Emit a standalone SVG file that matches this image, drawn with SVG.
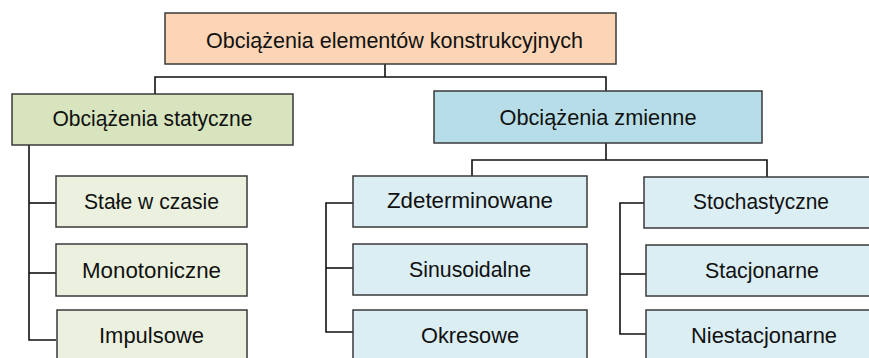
<svg xmlns="http://www.w3.org/2000/svg" width="869" height="358" viewBox="0 0 869 358">
<style>
.box{stroke:#3a3a3a;stroke-width:1.5}
.root{fill:#FBD5B5}
.sgrp{fill:#D7E4BD}
.sch{fill:#EBF1DE}
.zgrp{fill:#B7DEE8}
.zch{fill:#DBEEF4}
text{font-family:"Liberation Sans",Arial,sans-serif;font-size:22px;fill:#111;text-anchor:middle}
.conn{fill:none;stroke:#111;stroke-width:1.6}
</style>
<rect width="869" height="358" fill="#fff"/>
<g id="connectors" class="conn">
<polyline points="385,64 385,77"/>
<polyline points="155,94 155,77 606,77 606,91"/>
<polyline points="29,145 29,340 56,340"/>
<polyline points="29,203 56,203"/>
<polyline points="29,273 56,273"/>
<polyline points="606,143 606,160"/>
<polyline points="472,176 472,160 767,160 767,177"/>
<polyline points="353,203 326,203 326,332 353,332"/>
<polyline points="326,268 353,268"/>
<polyline points="644,203 620,203 620,334 646,334"/>
<polyline points="620,274 646,274"/>
</g>
<g id="root">
<rect class="box root" x="165" y="13" width="451" height="51"/>
<text x="394.5" y="48" textLength="377" lengthAdjust="spacingAndGlyphs">Obciążenia elementów konstrukcyjnych</text>
</g>
<g id="statyczne">
<rect class="box sgrp" x="12" y="94" width="281" height="51"/>
<text x="152.5" y="126" textLength="200" lengthAdjust="spacingAndGlyphs">Obciążenia statyczne</text>
</g>
<g id="stale">
<rect class="box sch" x="56" y="176" width="191" height="51"/>
<text x="151.5" y="209" textLength="135" lengthAdjust="spacingAndGlyphs">Stałe w czasie</text>
</g>
<g id="monotoniczne">
<rect class="box sch" x="56" y="244" width="191" height="52"/>
<text x="151.5" y="278" textLength="139" lengthAdjust="spacingAndGlyphs">Monotoniczne</text>
</g>
<g id="impulsowe">
<rect class="box sch" x="57" y="310" width="190" height="52"/>
<text x="151.5" y="343" textLength="105" lengthAdjust="spacingAndGlyphs">Impulsowe</text>
</g>
<g id="zmienne">
<rect class="box zgrp" x="434" y="91" width="328" height="52"/>
<text x="598" y="125" textLength="197" lengthAdjust="spacingAndGlyphs">Obciążenia zmienne</text>
</g>
<g id="zdeterminowane">
<rect class="box zch" x="353" y="176" width="234" height="51"/>
<text x="470" y="208" textLength="166" lengthAdjust="spacingAndGlyphs">Zdeterminowane</text>
</g>
<g id="sinusoidalne">
<rect class="box zch" x="353" y="244" width="234" height="51"/>
<text x="470" y="277" textLength="122" lengthAdjust="spacingAndGlyphs">Sinusoidalne</text>
</g>
<g id="okresowe">
<rect class="box zch" x="353" y="310" width="234" height="52"/>
<text x="470" y="343" textLength="98" lengthAdjust="spacingAndGlyphs">Okresowe</text>
</g>
<g id="stochastyczne">
<rect class="box zch" x="644" y="177" width="234" height="51"/>
<text x="761" y="209" textLength="136" lengthAdjust="spacingAndGlyphs">Stochastyczne</text>
</g>
<g id="stacjonarne">
<rect class="box zch" x="646" y="245" width="234" height="51"/>
<text x="762" y="278" textLength="114" lengthAdjust="spacingAndGlyphs">Stacjonarne</text>
</g>
<g id="niestacjonarne">
<rect class="box zch" x="646" y="310" width="234" height="52"/>
<text x="764" y="343" textLength="146" lengthAdjust="spacingAndGlyphs">Niestacjonarne</text>
</g>
</svg>
